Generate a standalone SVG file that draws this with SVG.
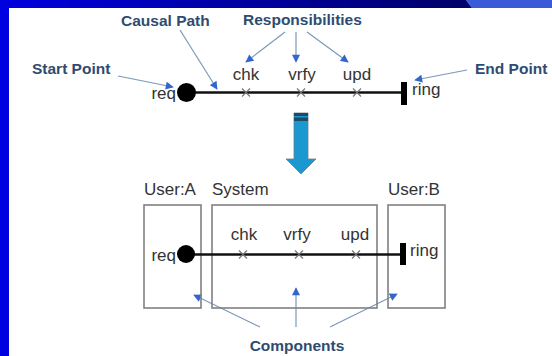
<svg xmlns="http://www.w3.org/2000/svg" width="552" height="356" viewBox="0 0 552 356">
<defs>
<linearGradient id="topbar" x1="0" y1="0" x2="466" y2="0" gradientUnits="userSpaceOnUse">
<stop offset="0" stop-color="#0000e0"/>
<stop offset="1" stop-color="#00006a"/>
</linearGradient>
<marker id="ah" viewBox="0 0 10 10" refX="9" refY="5" markerWidth="9" markerHeight="8" markerUnits="userSpaceOnUse" orient="auto">
<path d="M0,0 L10,5 L0,10 z" fill="#3366cc"/>
</marker>
<style>
.note{font-family:"Liberation Sans",Arial,sans-serif;font-weight:bold;font-size:15.5px;fill:#2f4c70}
.lbl{font-family:"Liberation Sans",Arial,sans-serif;font-size:17px;fill:#333333}
.conn{stroke:#7d97bb;stroke-width:1.2;fill:none;marker-end:url(#ah)}
.box{fill:none;stroke:#808080;stroke-width:1.6}
.path{stroke:#111111;stroke-width:2.6;fill:none}
.xm{stroke:#777777;stroke-width:1.2;fill:none}
</style>
</defs>
<rect x="0" y="0" width="552" height="356" fill="#ffffff"/>
<rect x="0" y="0" width="9" height="356" fill="#0000e0"/>
<rect x="0" y="0" width="466" height="8" fill="url(#topbar)"/>
<polygon points="466,0 552,0 552,8 472,8" fill="#3a5ad8"/>
<polygon points="460,0 466,0 472,8 466,8" fill="#00006a"/>

<g id="connectors">
<line class="conn" x1="118" y1="76" x2="173" y2="87"/>
<line class="conn" x1="180" y1="30" x2="217" y2="89"/>
<line class="conn" x1="285" y1="32" x2="246" y2="62"/>
<line class="conn" x1="296" y1="32" x2="296" y2="62"/>
<line class="conn" x1="307" y1="32" x2="348" y2="62"/>
<line class="conn" x1="467" y1="70" x2="415" y2="80"/>
<line class="conn" x1="260" y1="327" x2="194" y2="295"/>
<line class="conn" x1="296" y1="327" x2="296" y2="288"/>
<line class="conn" x1="330" y1="327" x2="397" y2="294"/>
</g>

<g id="label-causal-path"><text class="note" x="121" y="26">Causal Path</text></g>
<g id="label-responsibilities"><text class="note" x="243" y="25">Responsibilities</text></g>
<g id="label-start-point"><text class="note" x="32" y="74">Start Point</text></g>
<g id="label-end-point"><text class="note" x="475" y="74">End Point</text></g>
<g id="label-components"><text class="note" x="297" y="351" text-anchor="middle">Components</text></g>

<g id="top-path">
<line class="path" x1="187" y1="92.5" x2="404" y2="92.5"/>
<circle cx="186.5" cy="92.5" r="9.5" fill="#000000"/>
<rect x="401" y="82" width="6" height="23" fill="#000000"/>
<path class="xm" d="M242,88.5 l8,8 M250,88.5 l-8,8"/>
<path class="xm" d="M297,88.5 l8,8 M305,88.5 l-8,8"/>
<path class="xm" d="M353,88.5 l8,8 M361,88.5 l-8,8"/>
<text class="lbl" x="176" y="99" text-anchor="end">req</text>
<text class="lbl" x="246" y="80" text-anchor="middle">chk</text>
<text class="lbl" x="302" y="80" text-anchor="middle">vrfy</text>
<text class="lbl" x="357" y="80" text-anchor="middle">upd</text>
<text class="lbl" x="412" y="95">ring</text>
</g>

<g id="transform-arrow">
<polygon points="294,113 308,113 308,159 316,159 301,174 286,159 294,159" fill="#1b98d0" stroke="#6a8090" stroke-width="0.8"/>
<rect x="294" y="113" width="14" height="3" fill="#1d4a68"/>
<rect x="294" y="117.5" width="14" height="3.5" fill="#1d4a68"/>
</g>

<g id="user-a">
<rect class="box" x="144" y="205" width="57" height="103"/>
<text class="lbl" x="144" y="195">User:A</text>
</g>
<g id="system">
<rect class="box" x="212" y="205" width="165" height="103"/>
<text class="lbl" x="212" y="195">System</text>
</g>
<g id="user-b">
<rect class="box" x="388" y="205" width="57" height="103"/>
<text class="lbl" x="388" y="195">User:B</text>
</g>

<g id="bottom-path">
<line class="path" x1="186" y1="254.5" x2="402" y2="254.5"/>
<circle cx="186" cy="254" r="9" fill="#000000"/>
<rect x="400" y="243" width="6" height="22" fill="#000000"/>
<path class="xm" d="M239,250.5 l8,8 M247,250.5 l-8,8"/>
<path class="xm" d="M295,250.5 l8,8 M303,250.5 l-8,8"/>
<path class="xm" d="M352,250.5 l8,8 M360,250.5 l-8,8"/>
<text class="lbl" x="176" y="261" text-anchor="end">req</text>
<text class="lbl" x="244" y="240" text-anchor="middle">chk</text>
<text class="lbl" x="297" y="240" text-anchor="middle">vrfy</text>
<text class="lbl" x="355" y="240" text-anchor="middle">upd</text>
<text class="lbl" x="410" y="256">ring</text>
</g>
</svg>
